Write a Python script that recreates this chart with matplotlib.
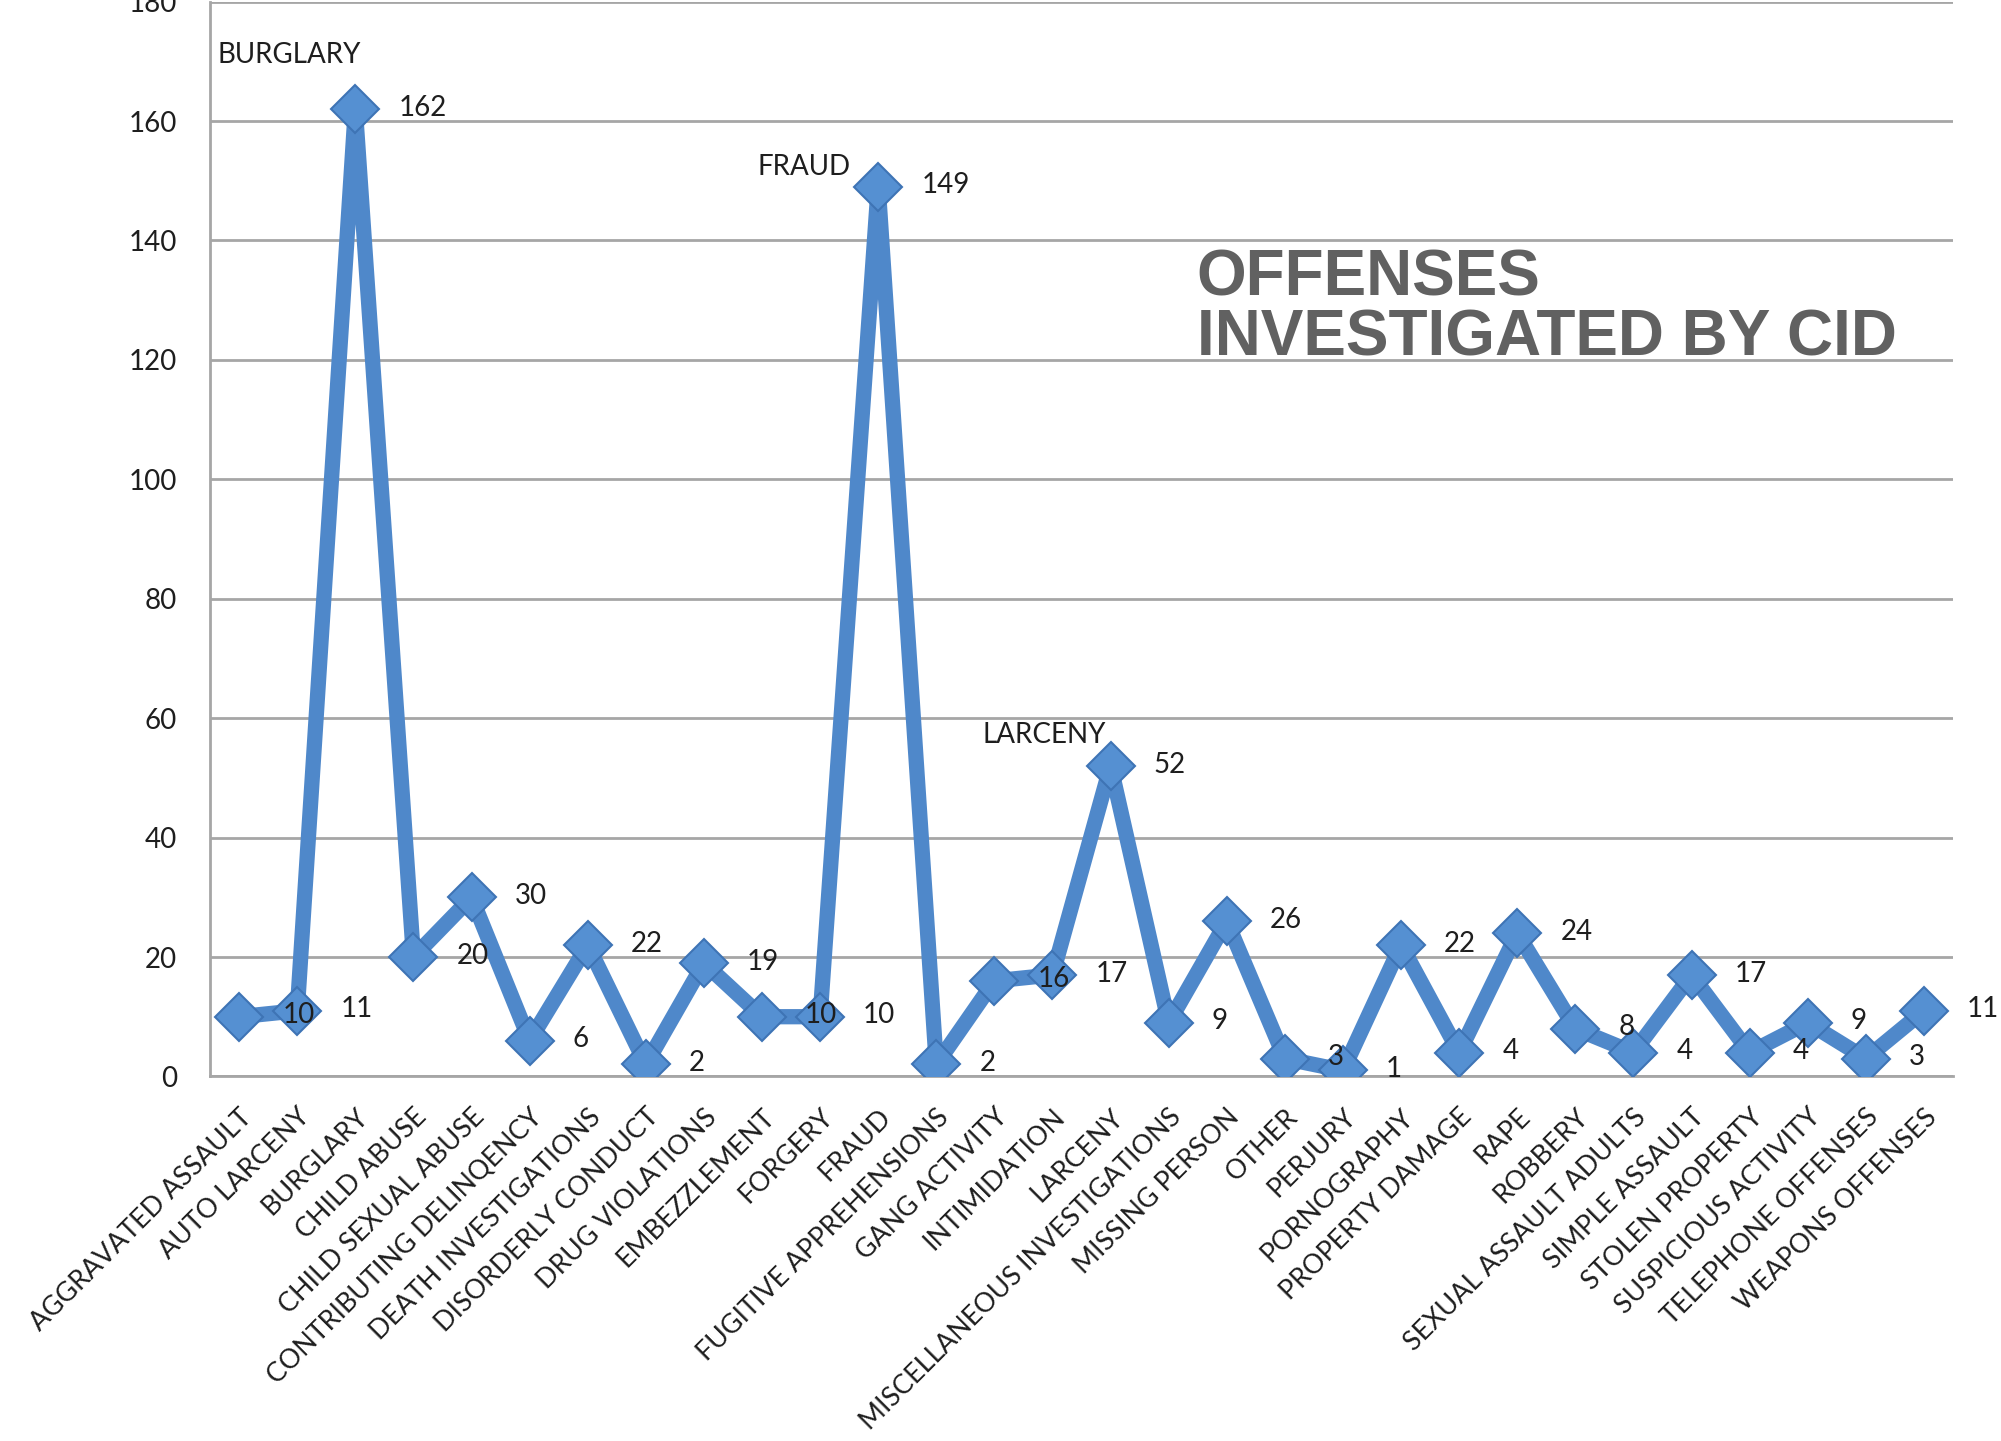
import matplotlib
matplotlib.use("Agg")
import matplotlib.pyplot as plt
import numpy as np

# Offenses investigated by CID
offenses = ["AGGRAVATED ASSAULT", "AUTO LARCENY", "BURGLARY", "CHILD ABUSE",
            "CHILD SEXUAL ABUSE", "CONTRIBUTING DELINQENCY", "DEATH INVESTIGATIONS",
            "DISORDERLY CONDUCT", "DRUG VIOLATIONS", "EMBEZZLEMENT", "FORGERY",
            "FRAUD", "FUGITIVE APPREHENSIONS", "GANG ACTIVITY", "INTIMIDATION",
            "LARCENY", "MISCELLANEOUS INVESTIGATIONS", "MISSING PERSON", "OTHER",
            "PERJURY", "PORNOGRAPHY", "PROPERTY DAMAGE", "RAPE", "ROBBERY",
            "SEXUAL ASSAULT ADULTS", "SIMPLE ASSAULT", "STOLEN PROPERTY",
            "SUSPICIOUS ACTIVITY", "TELEPHONE OFFENSES", "WEAPONS OFFENSES"]
counts = [10, 11, 162, 20, 30, 6, 22, 2, 19, 10, 10, 149, 2, 16, 17,
          52, 9, 26, 3, 1, 22, 4, 24, 8, 4, 17, 4, 9, 3, 11]

# names written above the peaks
peak_names = ["BURGLARY", "FRAUD", "LARCENY"]
peak_offsets = [(4, 39), (-20, 14), (-3, 22)]

y_ticks = list(range(0, 181, 20))

line_col = "#4F88CA"
text_col = "#1E1E1E"
lab_font = "Lato"

fig = plt.figure(figsize=(20.01, 14.41), dpi=100)
ax = fig.add_axes([0.105, 0.253, 0.871, 0.7459])

x = np.arange(len(offenses))
ax.plot(x, counts, color=line_col, lw=11, solid_joinstyle="round", zorder=3,
        marker="D", markersize=24, markerfacecolor="#5590D2",
        markeredgecolor="#3E74B5", markeredgewidth=1.5)

for i, v in enumerate(counts):
    ax.annotate(str(v), (i, v), xytext=(31, 1), textcoords="offset points",
                ha="left", va="center", fontsize=20, family=lab_font,
                color=text_col, zorder=4)

for name, off in zip(peak_names, peak_offsets):
    i = offenses.index(name)
    ax.annotate(name, (i, counts[i]), xytext=off, textcoords="offset points",
                ha="right", va="center", fontsize=20, family=lab_font,
                color=text_col, zorder=4)

ax.set_xlim(-0.5, len(offenses) - 0.5)
ax.set_ylim(0, 180)
ax.set_yticks(y_ticks)
ax.set_yticklabels([str(t) for t in y_ticks], fontsize=20, family=lab_font,
                   color=text_col)
ax.set_xticks(x)
ax.set_xticklabels(offenses, rotation=45, ha="right", va="top",
                   rotation_mode="anchor", fontsize=19.3, family=lab_font,
                   color=text_col)
ax.tick_params(axis="y", length=0, pad=24)
ax.tick_params(axis="x", length=0, pad=20)

ax.grid(axis="y", color="#A6A6A6", lw=2)
ax.set_axisbelow(True)
for s in ["top", "right"]:
    ax.spines[s].set_visible(False)
for s in ["left", "bottom"]:
    ax.spines[s].set_color("#A6A6A6")
    ax.spines[s].set_linewidth(2)

fig.text(0.598, 0.795, "OFFENSES", fontsize=46, fontweight="bold",
         family="Liberation Sans", color="#616161", va="baseline")
fig.text(0.598, 0.753, "INVESTIGATED BY CID", fontsize=46, fontweight="bold",
         family="Liberation Sans", color="#616161", va="baseline")

fig.savefig("out.png", dpi=100, facecolor="white")
